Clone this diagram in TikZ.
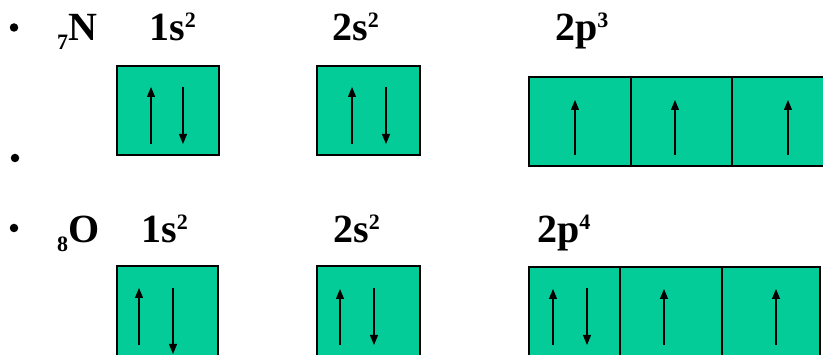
\documentclass[tikz,border=0pt]{standalone}
\usepackage{fontspec}
\setmainfont{Liberation Serif}
\usetikzlibrary{arrows.meta}
\definecolor{orb}{RGB}{4,204,153}
\newcommand\mysup[1]{\raisebox{13pt}{\fontsize{22}{22}\selectfont #1}}
\newcommand\mysub[1]{\raisebox{-9pt}{\fontsize{22}{22}\selectfont #1}}
\tikzset{
  cell/.style={draw=black, fill=orb, line width=1.3pt, inner sep=0pt},
  lbl/.style={anchor=base west, inner sep=0pt, font=\fontsize{40}{44}\selectfont\bfseries},
  spin/.style={line width=1.1pt, -{Triangle[length=10pt,width=8pt]}},
  dot/.style={circle, fill=black, inner sep=0pt, minimum size=8.5pt}
}
\begin{document}
\begin{tikzpicture}[x=1pt,y=-1pt]
\useasboundingbox (0,0) rectangle (823,355);
\clip (0,0) rectangle (823,355);
% bullets
\node[dot] (b1) at (14,27.5) {};
\node[dot] (b2) at (15,158) {};
\node[dot] (b3) at (14,228) {};
% N row labels
\node[lbl] (nN) at (57,41) {\mysub{7}N};
\node[lbl] (n1s) at (149,41) {1s\mysup{2}};
\node[lbl] (n2s) at (332,41) {2s\mysup{2}};
\node[lbl] (n2p) at (555,41) {2p\mysup{3}};
% O row labels
\node[lbl] (oO) at (57,243) {\mysub{8}O};
\node[lbl] (o1s) at (141,243) {1s\mysup{2}};
\node[lbl] (o2s) at (333,243) {2s\mysup{2}};
\node[lbl] (o2p) at (537,243) {2p\mysup{4}};
% N boxes
\draw[cell] (117,66) rectangle (219,155);
\draw[cell] (317,66) rectangle (420,155);
\draw[cell] (529,77) rectangle (631,166);
\draw[cell] (631,77) rectangle (732,166);
\draw[cell] (732,77) rectangle (834,166);
% O boxes
\draw[cell] (117,266) rectangle (218,360);
\draw[cell] (317,266) rectangle (420,360);
\draw[cell] (529,267) rectangle (620,360);
\draw[cell] (620,267) rectangle (722,360);
\draw[cell] (722,267) rectangle (820,360);
% N spins
\draw[spin] (151,144) -- (151,87);
\draw[spin] (183,87) -- (183,144);
\draw[spin] (352,144) -- (352,87);
\draw[spin] (386,87) -- (386,144);
\draw[spin] (575,155) -- (575,100);
\draw[spin] (675,155) -- (675,100);
\draw[spin] (788,155) -- (788,100);
% O spins
\draw[spin] (139,345) -- (139,288);
\draw[spin] (173,288) -- (173,354);
\draw[spin] (340,345) -- (340,289);
\draw[spin] (374,288) -- (374,345);
\draw[spin] (553,345) -- (553,289);
\draw[spin] (587,288) -- (587,345);
\draw[spin] (664,345) -- (664,289);
\draw[spin] (776,345) -- (776,289);
\end{tikzpicture}
\end{document}
